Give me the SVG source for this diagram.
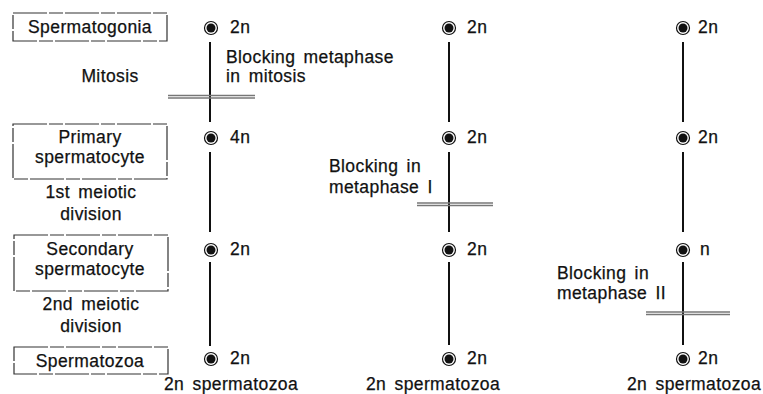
<svg xmlns="http://www.w3.org/2000/svg" width="763" height="394" viewBox="0 0 763 394">
  <style>
    text { font-family: "Liberation Sans", Arial, sans-serif; font-size: 17.5px; fill: #111; stroke: #111; stroke-width: 0.25; letter-spacing: 0.4px; word-spacing: 3px; }
    .mid { text-anchor: middle; }
    .box { fill: none; stroke: #333; stroke-width: 1.2; stroke-dasharray: 34 2 14 2; }
    .stem { stroke: #111; stroke-width: 2; fill: none; }
    .bar { stroke: #777; stroke-width: 1.3; fill: none; }
    .ring { fill: #fff; stroke: #111; stroke-width: 1.2; }
    .core { fill: #111; }
  </style>
  <defs>
    <g id="cell">
      <circle class="ring" r="6.5"/>
      <circle class="core" r="4.5"/>
    </g>
  </defs>

  <!-- stage boxes and side labels -->
  <g id="spermatogonia">
    <rect class="box" x="13" y="13" width="154" height="28"/>
    <text class="mid" x="90" y="33">Spermatogonia</text>
  </g>
  <g id="mitosis-label">
    <text class="mid" x="110" y="82">Mitosis</text>
  </g>
  <g id="primary">
    <rect class="box" x="13" y="124" width="154" height="55"/>
    <text class="mid" x="90" y="143">Primary</text>
    <text class="mid" x="90" y="163">spermatocyte</text>
  </g>
  <g id="meiosis1-label">
    <text class="mid" x="91" y="198">1st meiotic</text>
    <text class="mid" x="91" y="220">division</text>
  </g>
  <g id="secondary">
    <rect class="box" x="14" y="235" width="154" height="56"/>
    <text class="mid" x="90" y="255">Secondary</text>
    <text class="mid" x="90" y="275">spermatocyte</text>
  </g>
  <g id="meiosis2-label">
    <text class="mid" x="91" y="310">2nd meiotic</text>
    <text class="mid" x="91" y="332">division</text>
  </g>
  <g id="spermatozoa">
    <rect class="box" x="14" y="347" width="154" height="27"/>
    <text class="mid" x="90" y="367">Spermatozoa</text>
  </g>

  <!-- connectors: vertical lineage stems and blocking bars -->
  <g id="connectors">
    <line class="stem" x1="210" y1="42" x2="210" y2="122"/>
    <line class="stem" x1="210" y1="152" x2="210" y2="232"/>
    <line class="stem" x1="210" y1="262" x2="210" y2="346"/>
    <line class="bar" x1="168" y1="95.5" x2="255" y2="95.5"/>
    <line class="bar" x1="168" y1="98" x2="255" y2="98"/>

    <line class="stem" x1="449" y1="42" x2="449" y2="122"/>
    <line class="stem" x1="449" y1="152" x2="449" y2="232"/>
    <line class="stem" x1="449" y1="262" x2="449" y2="345"/>
    <line class="bar" x1="417" y1="203" x2="493" y2="203"/>
    <line class="bar" x1="417" y1="205.5" x2="493" y2="205.5"/>

    <line class="stem" x1="683" y1="42" x2="683" y2="122"/>
    <line class="stem" x1="683" y1="152" x2="683" y2="232"/>
    <line class="stem" x1="683" y1="262" x2="683" y2="345"/>
    <line class="bar" x1="646" y1="312" x2="730" y2="312"/>
    <line class="bar" x1="646" y1="314.5" x2="730" y2="314.5"/>
  </g>

  <!-- column 1: blocking in mitosis -->
  <g id="c1">
    <use href="#cell" x="211" y="28"/><text x="230" y="33">2n</text>
    <use href="#cell" x="211" y="138"/><text x="230" y="143">4n</text>
    <use href="#cell" x="211" y="250"/><text x="230" y="255">2n</text>
    <use href="#cell" x="211" y="359"/><text x="230" y="364">2n</text>
    <text x="226" y="63">Blocking metaphase</text>
    <text x="226" y="82">in mitosis</text>
    <text class="mid" x="231" y="390">2n spermatozoa</text>
  </g>

  <!-- column 2: blocking in metaphase I -->
  <g id="c2">
    <use href="#cell" x="449" y="28"/><text x="467" y="33">2n</text>
    <use href="#cell" x="449" y="138"/><text x="467" y="143">2n</text>
    <use href="#cell" x="449" y="250"/><text x="467" y="255">2n</text>
    <use href="#cell" x="449" y="359"/><text x="467" y="364">2n</text>
    <text x="329" y="172">Blocking in</text>
    <text x="329" y="193">metaphase I</text>
    <text class="mid" x="433" y="390">2n spermatozoa</text>
  </g>

  <!-- column 3: blocking in metaphase II -->
  <g id="c3">
    <use href="#cell" x="683" y="28"/><text x="698" y="33">2n</text>
    <use href="#cell" x="683" y="138"/><text x="698" y="143">2n</text>
    <use href="#cell" x="683" y="250"/><text x="700" y="255">n</text>
    <use href="#cell" x="683" y="359"/><text x="698" y="364">2n</text>
    <text x="557" y="279">Blocking in</text>
    <text x="557" y="299">metaphase II</text>
    <text class="mid" x="694" y="390">2n spermatozoa</text>
  </g>
</svg>
